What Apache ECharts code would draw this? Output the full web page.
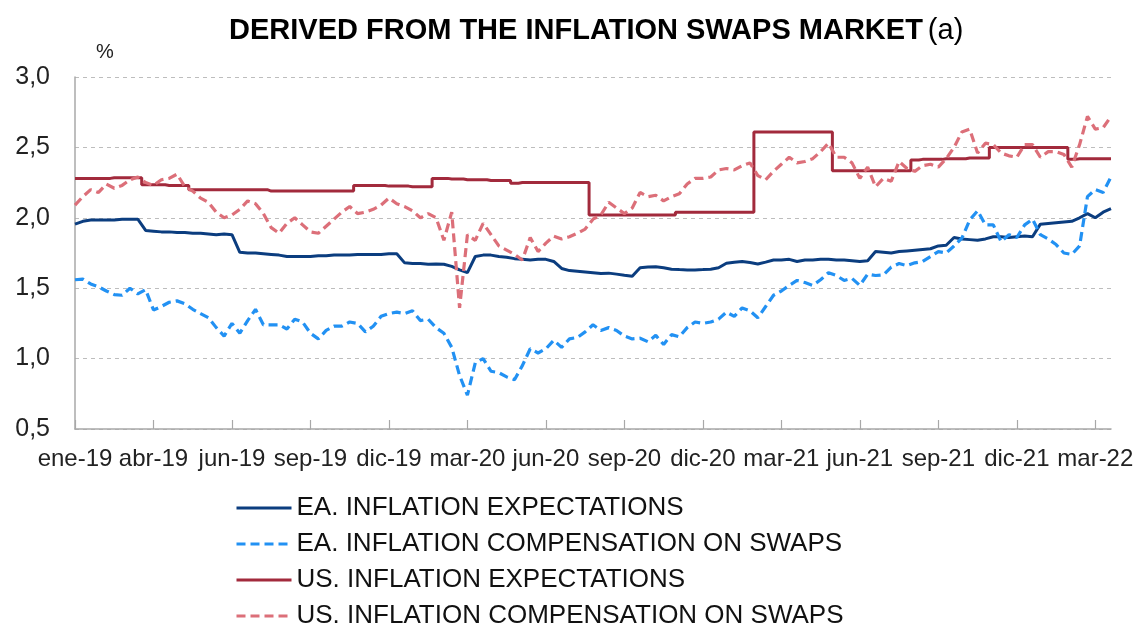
<!DOCTYPE html>
<html>
<head>
<meta charset="utf-8">
<script src="https://cdn.jsdelivr.net/npm/echarts@6/dist/echarts.min.js"></script>
<style>
html,body{margin:0;padding:0;background:#fff;}
#chart{width:1137px;height:625px;}
</style>
</head>
<body>
<div id="chart"></div>
<script>
// Tick labels shown every 10 sample points
const tickLabels = ['ene-19','abr-19','jun-19','sep-19','dic-19','mar-20','jun-20','sep-20','dic-20','mar-21','jun-21','sep-21','dic-21','mar-22'];
const pointsPerTick = 10;

const seriesNames = ['EA. INFLATION EXPECTATIONS','EA. INFLATION COMPENSATION ON SWAPS','US. INFLATION EXPECTATIONS','US. INFLATION COMPENSATION ON SWAPS'];

const eaExpectations = [
1.955,1.975,1.985,1.985,1.985,1.985,1.99,1.99,1.99,1.91,
1.905,1.90,1.90,1.895,1.895,1.89,1.89,1.885,1.88,1.885,
1.88,1.755,1.75,1.75,1.745,1.74,1.735,1.725,1.725,1.725,
1.725,1.73,1.73,1.735,1.735,1.735,1.74,1.74,1.74,1.74,
1.745,1.745,1.68,1.675,1.675,1.67,1.672,1.67,1.655,1.63,
1.61,1.725,1.735,1.735,1.725,1.72,1.71,1.705,1.70,1.705,
1.705,1.69,1.64,1.625,1.62,1.615,1.61,1.605,1.607,1.60,
1.592,1.585,1.645,1.65,1.652,1.645,1.635,1.632,1.63,1.63,
1.632,1.635,1.645,1.677,1.685,1.69,1.682,1.672,1.685,1.70,
1.70,1.705,1.69,1.70,1.70,1.705,1.705,1.70,1.70,1.695,
1.69,1.695,1.76,1.755,1.75,1.76,1.765,1.77,1.775,1.78,
1.80,1.805,1.86,1.85,1.845,1.84,1.85,1.865,1.865,1.86,
1.865,1.87,1.865,1.955,1.96,1.965,1.97,1.975,2.00,2.03,
2.00,2.04,2.065];

const eaSwaps = [
1.56,1.565,1.53,1.51,1.48,1.455,1.45,1.50,1.46,1.49,
1.345,1.37,1.40,1.41,1.39,1.35,1.32,1.29,1.22,1.16,
1.25,1.18,1.27,1.35,1.24,1.24,1.24,1.21,1.28,1.26,
1.18,1.14,1.20,1.23,1.23,1.26,1.25,1.19,1.23,1.30,
1.32,1.33,1.32,1.34,1.27,1.28,1.22,1.18,1.08,0.88,
0.74,0.97,1.00,0.91,0.90,0.87,0.85,0.95,1.07,1.04,
1.07,1.13,1.08,1.14,1.15,1.19,1.24,1.20,1.22,1.20,
1.16,1.14,1.145,1.12,1.165,1.10,1.17,1.155,1.22,1.26,
1.25,1.26,1.28,1.33,1.30,1.36,1.34,1.29,1.37,1.45,
1.48,1.52,1.555,1.54,1.52,1.56,1.61,1.59,1.555,1.57,
1.52,1.60,1.59,1.595,1.65,1.675,1.66,1.68,1.69,1.725,
1.76,1.75,1.80,1.855,1.985,2.05,1.95,1.95,1.83,1.88,
1.86,1.95,1.99,1.88,1.85,1.81,1.75,1.74,1.80,2.15,
2.20,2.18,2.29];

const usExpectations = [
2.28,2.28,2.28,2.28,2.28,2.285,2.285,2.285,2.285,2.235,
2.235,2.235,2.23,2.23,2.23,2.20,2.20,2.20,2.20,2.20,
2.20,2.20,2.20,2.20,2.20,2.19,2.19,2.19,2.19,2.19,
2.19,2.19,2.19,2.19,2.19,2.19,2.23,2.23,2.23,2.23,
2.225,2.225,2.225,2.22,2.22,2.22,2.28,2.28,2.275,2.275,
2.27,2.27,2.27,2.265,2.265,2.265,2.245,2.25,2.25,2.25,
2.25,2.25,2.25,2.25,2.25,2.25,2.02,2.02,2.02,2.02,
2.02,2.02,2.02,2.02,2.02,2.02,2.02,2.04,2.04,2.04,
2.04,2.04,2.04,2.04,2.04,2.04,2.04,2.61,2.61,2.61,
2.61,2.61,2.61,2.61,2.61,2.61,2.61,2.335,2.335,2.335,
2.335,2.335,2.335,2.335,2.335,2.335,2.335,2.41,2.415,2.415,
2.415,2.42,2.42,2.42,2.425,2.425,2.425,2.50,2.50,2.50,
2.50,2.50,2.50,2.50,2.50,2.50,2.50,2.415,2.42,2.42,
2.42,2.42,2.42];

const usSwaps = [
2.09,2.15,2.20,2.18,2.24,2.21,2.23,2.27,2.29,2.25,
2.23,2.27,2.28,2.31,2.22,2.19,2.14,2.11,2.04,2.00,
2.02,2.06,2.12,2.10,2.03,1.93,1.89,1.96,2.00,1.95,
1.90,1.89,1.94,1.99,2.04,2.08,2.03,2.04,2.06,2.09,
2.14,2.10,2.08,2.05,2.00,2.03,2.00,1.84,2.04,1.36,
1.88,1.84,1.96,1.88,1.80,1.77,1.74,1.70,1.86,1.76,
1.82,1.87,1.85,1.865,1.89,1.92,1.99,2.02,2.11,2.07,
2.03,2.07,2.18,2.15,2.16,2.12,2.15,2.17,2.24,2.28,
2.28,2.29,2.34,2.35,2.34,2.37,2.39,2.30,2.27,2.33,
2.38,2.43,2.39,2.40,2.42,2.47,2.53,2.43,2.43,2.39,
2.28,2.36,2.22,2.28,2.26,2.40,2.35,2.33,2.37,2.38,
2.36,2.42,2.50,2.61,2.63,2.46,2.53,2.52,2.46,2.44,
2.43,2.52,2.52,2.43,2.47,2.47,2.45,2.36,2.52,2.72,
2.63,2.64,2.72];

const categories = eaExpectations.map((_, i) =>
  i % pointsPerTick === 0 ? (tickLabels[i / pointsPerTick] || '') : '');

const FONT = '"Liberation Sans", Arial, Helvetica, sans-serif';
const colors = ['#0b3d7f', '#2291f3', '#a22a3c', '#dc6f79'];

const chart = echarts.init(document.getElementById('chart'), null, {renderer: 'canvas'});
chart.setOption({
  animation: false,
  backgroundColor: '#ffffff',
  textStyle: {fontFamily: FONT},
  title: {
    left: 224, top: 11,
    text: '{b|DERIVED FROM THE INFLATION SWAPS MARKET} {n|(a)}',
    textStyle: {
      rich: {
        b: {fontFamily: FONT, fontWeight: 'bold', fontSize: 29, color: '#000'},
        n: {fontFamily: FONT, fontWeight: 'normal', fontSize: 29, color: '#000'}
      }
    }
  },
  graphic: [{
    type: 'text', left: 96, top: 42,
    style: {text: '%', font: '20px ' + FONT, fill: '#222'}
  }],
  legend: {
    orient: 'vertical', left: 235, top: 495, height: 300, padding: 0,
    itemWidth: 55, itemHeight: 14, itemGap: 10,
    itemStyle: {opacity: 0, borderWidth: 0},
    lineStyle: {width: 3},
    textStyle: {fontFamily: FONT, fontSize: 26, color: '#111', lineHeight: 26},
    data: seriesNames
  },
  grid: {left: 75, right: 26, top: 77, bottom: 196, containLabel: false},
  xAxis: {
    type: 'category', data: categories, boundaryGap: false,
    axisLine: {lineStyle: {color: '#a8a8a8', width: 1.5}},
    axisTick: {show: true, inside: true, length: 9, interval: pointsPerTick - 1, lineStyle: {color: '#a8a8a8', width: 1.2}},
    axisLabel: {interval: pointsPerTick - 1, fontSize: 24, color: '#222', margin: 18, fontFamily: FONT},
    splitLine: {show: false}
  },
  yAxis: {
    type: 'value', min: 0.5, max: 3.0, interval: 0.5,
    axisLine: {show: true, lineStyle: {color: '#a8a8a8', width: 1.5}},
    axisTick: {show: false},
    axisLabel: {fontSize: 25, color: '#222', margin: 25, fontFamily: FONT,
      formatter: v => v.toFixed(1).replace('.', ',')},
    splitLine: {show: true, lineStyle: {color: '#bdbdbd', type: [4, 4], width: 1}}
  },
  series: [
    {name: seriesNames[0], type: 'line', data: eaExpectations, symbol: 'none', showSymbol: false,
      lineStyle: {color: colors[0], width: 3}, itemStyle: {color: colors[0]}},
    {name: seriesNames[1], type: 'line', data: eaSwaps, symbol: 'none', showSymbol: false,
      lineStyle: {color: colors[1], width: 3.2, type: [9, 5]}, itemStyle: {color: colors[1]}},
    {name: seriesNames[2], type: 'line', data: usExpectations, symbol: 'none', showSymbol: false, step: 'middle',
      lineStyle: {color: colors[2], width: 3}, itemStyle: {color: colors[2]}},
    {name: seriesNames[3], type: 'line', data: usSwaps, symbol: 'none', showSymbol: false,
      lineStyle: {color: colors[3], width: 3.2, type: [9, 5]}, itemStyle: {color: colors[3]}}
  ]
});
</script>
</body>
</html>
